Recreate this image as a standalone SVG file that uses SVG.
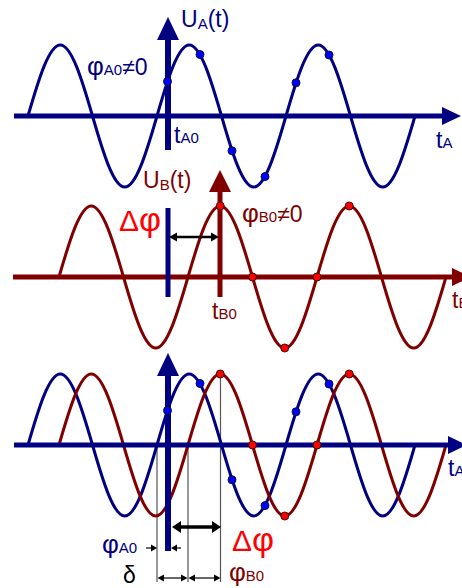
<svg xmlns="http://www.w3.org/2000/svg" width="462" height="588" viewBox="0 0 462 588">
<style>
text{font-family:"Liberation Sans",Arial,sans-serif;font-size:23px}
.u{font-size:23px}
.sub{font-size:15px}
.phi{font-size:26px}
.b{fill:#000080}
.r{fill:#800000}
.k{fill:#000}
.dp{fill:#ff0000;font-size:30px}
.dp .phi{font-size:34px}
.wb{fill:none;stroke:#000080;stroke-width:3}
.wr{fill:none;stroke:#800000;stroke-width:3}
.axb{stroke:#000080;stroke-width:5;fill:none}
.axr{stroke:#800000;stroke-width:5;fill:none}
.vb{stroke:#000080;stroke-width:6;fill:none}
.hb{fill:#000080}
.hr{fill:#800000}
.db{fill:#0000ff;stroke:#101030;stroke-width:1}
.dr{fill:#ff0000;stroke:#301010;stroke-width:1}
.thin{stroke:#555;stroke-width:1.2;fill:none}
.ln{stroke:#000;fill:none}
.ah{fill:#000}
</style>
<defs>
<path id="waveShape" d="M0,0 c10.48,-36.25 20.96,-71 32.25,-71 s21.77,34.75 32.25,71 s20.96,71 32.25,71 s21.77,-34.75 32.25,-71 s20.96,-71 32.25,-71 s21.77,34.75 32.25,71 s20.96,71 32.25,71 s21.77,-34.75 32.25,-71 s20.96,-71 32.25,-71 s21.77,34.75 32.25,71 s20.96,71 32.25,71 s21.77,-34.75 32.25,-71"/>
</defs>

<g id="panelA">
<use href="#waveShape" class="wb" x="28" y="116"/>
<line class="axb" x1="14" y1="116" x2="444" y2="116"/>
<polygon class="hb" points="442,107 461,116 442,125"/>
<line class="vb" x1="168" y1="150" x2="168" y2="38"/>
<polygon class="hb" points="157,40 168,17 179,40"/>
<circle class="db" cx="167.5" cy="81.5" r="4"/>
<circle class="db" cx="200" cy="54.5" r="4"/>
<circle class="db" cx="232" cy="150.8" r="4"/>
<circle class="db" cx="265" cy="176.6" r="4"/>
<circle class="db" cx="296" cy="82.8" r="4"/>
<circle class="db" cx="329" cy="55" r="4"/>
<text class="b u" x="181" y="27">U<tspan class="sub" dy="2">A</tspan><tspan dy="-2">(t)</tspan></text>
<text class="b" x="87" y="75"><tspan class="phi">φ</tspan><tspan class="sub">A0</tspan>≠0</text>
<text class="b" x="174" y="143">t<tspan class="sub">A0</tspan></text>
<text class="b" x="436" y="148">t<tspan class="sub">A</tspan></text>
</g>

<g id="panelB">
<use href="#waveShape" class="wr" x="59" y="277"/>
<line class="axr" x1="13" y1="277" x2="454" y2="277"/>
<polygon class="hr" points="452,268 471,277 452,286"/>
<line class="axr" x1="220" y1="297" x2="220" y2="190"/>
<polygon class="hr" points="209,192 220,170 231,192"/>
<line stroke="#000080" stroke-width="5" x1="168" y1="208" x2="168" y2="297"/>
<circle class="dr" cx="220.25" cy="206" r="4"/>
<circle class="dr" cx="252.5" cy="277" r="4"/>
<circle class="dr" cx="284.75" cy="348" r="4"/>
<circle class="dr" cx="317" cy="277" r="4"/>
<circle class="dr" cx="349.25" cy="206" r="4"/>
<text class="r u" x="143" y="188">U<tspan class="sub" dy="2">B</tspan><tspan dy="-2">(t)</tspan></text>
<text class="r" x="242" y="222"><tspan class="phi">φ</tspan><tspan class="sub">B0</tspan>≠0</text>
<text class="r" x="212" y="319">t<tspan class="sub">B0</tspan></text>
<text class="r" x="452" y="308">t<tspan class="sub">B</tspan></text>
<text class="dp" x="119" y="231">Δ<tspan class="phi">φ</tspan></text>
</g>

<g id="panelC">
<line class="thin" x1="157" y1="445" x2="157" y2="582"/>
<line class="thin" x1="188" y1="445" x2="188" y2="582"/>
<line class="thin" x1="220.5" y1="374" x2="220.5" y2="582"/>
<use href="#waveShape" class="wb" x="28" y="445"/>
<use href="#waveShape" class="wr" x="59" y="445"/>
<line class="axb" x1="14" y1="445" x2="450" y2="445"/>
<polygon class="hb" points="448,436 467,445 448,454"/>
<line class="vb" x1="168" y1="551" x2="168" y2="374"/>
<polygon class="hb" points="157,376 168,353 179,376"/>
<circle class="db" cx="167.5" cy="410.5" r="4"/>
<circle class="db" cx="200" cy="383.5" r="4"/>
<circle class="db" cx="232" cy="479.8" r="4"/>
<circle class="db" cx="265" cy="505.6" r="4"/>
<circle class="db" cx="296" cy="411.8" r="4"/>
<circle class="db" cx="329" cy="384" r="4"/>
<circle class="dr" cx="220.25" cy="374" r="4"/>
<circle class="dr" cx="252.5" cy="445" r="4"/>
<circle class="dr" cx="284.75" cy="516" r="4"/>
<circle class="dr" cx="317" cy="445" r="4"/>
<circle class="dr" cx="349.25" cy="374" r="4"/>
<text class="b" x="448" y="476">t<tspan class="sub">A</tspan></text>
<text class="b" x="102" y="553"><tspan class="phi">φ</tspan><tspan class="sub">A0</tspan></text>
<text class="k" x="123" y="583">δ</text>
<text class="r" x="229" y="581"><tspan class="phi">φ</tspan><tspan class="sub">B0</tspan></text>
<text class="dp" x="232" y="551">Δ<tspan class="phi">φ</tspan></text>
</g>

<g id="connectors">
<line class="ln" stroke-width="2.5" x1="175" y1="237" x2="213" y2="237"/>
<polygon class="ah" points="169,237 177,232.5 177,241.5"/>
<polygon class="ah" points="219,237 211,232.5 211,241.5"/>
<line class="ln" stroke-width="3.5" x1="178" y1="527" x2="215" y2="527"/>
<polygon class="ah" points="172,527 181,521 181,533"/>
<polygon class="ah" points="221,527 212,521 212,533"/>
<line class="ln" stroke-width="1.2" x1="146" y1="548" x2="152" y2="548"/>
<polygon class="ah" points="157,548 151,544.5 151,551.5"/>
<line class="ln" stroke-width="1.2" x1="176" y1="548" x2="181" y2="548"/>
<polygon class="ah" points="171,548 177,544.5 177,551.5"/>
<line class="ln" stroke-width="1.2" x1="160" y1="578" x2="185" y2="578"/>
<polygon class="ah" points="157.5,578 164,574.5 164,581.5"/>
<polygon class="ah" points="187.5,578 181,574.5 181,581.5"/>
<line class="ln" stroke-width="1.2" x1="191" y1="578" x2="218" y2="578"/>
<polygon class="ah" points="188.5,578 195,574.5 195,581.5"/>
<polygon class="ah" points="220.5,578 214,574.5 214,581.5"/>
</g>
</svg>
